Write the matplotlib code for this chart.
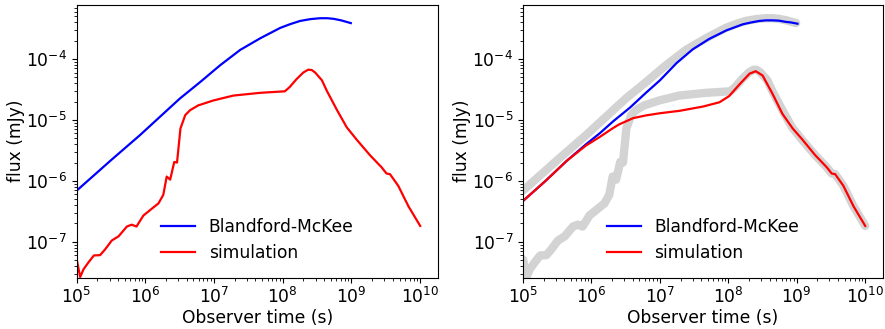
import numpy as np
import matplotlib
matplotlib.use("Agg")
import matplotlib.pyplot as plt

# ---- data (log10 values) ----
# Left panel: Blandford-McKee analytic curve
bm_left_logt = [5.0, 5.5, 5.92, 6.21, 6.50, 6.795, 7.09, 7.38, 7.67, 7.96,
                8.10, 8.25, 8.40, 8.54, 8.65, 8.74, 8.85, 8.99]
bm_left_logf = [-6.16, -5.66, -5.25, -4.95, -4.65, -4.38, -4.10, -3.85, -3.66,
                -3.49, -3.43, -3.375, -3.345, -3.33, -3.33, -3.34, -3.365, -3.41]

# Left panel: simulation curve
sim_left_logt = [5.0, 5.05, 5.10, 5.17, 5.25, 5.34, 5.41, 5.51, 5.61, 5.73,
                 5.80, 5.87, 5.97, 6.09, 6.19, 6.26, 6.31, 6.36, 6.42, 6.46,
                 6.51, 6.58, 6.65, 6.77, 6.80, 6.99, 7.28, 7.67, 8.03, 8.10,
                 8.20, 8.30, 8.37, 8.42, 8.47, 8.57, 8.64, 8.79, 8.93, 9.08,
                 9.27, 9.44, 9.51, 9.56, 9.68, 9.83, 10.0]
sim_left_logf = [-7.29, -7.58, -7.45, -7.34, -7.225, -7.22, -7.13, -6.98, -6.91,
                 -6.75, -6.72, -6.75, -6.57, -6.46, -6.37, -6.23, -5.93, -5.98,
                 -5.69, -5.70, -5.14, -4.92, -4.84, -4.76, -4.75, -4.68, -4.60,
                 -4.555, -4.53, -4.46, -4.33, -4.22, -4.175, -4.18, -4.22, -4.35,
                 -4.52, -4.84, -5.12, -5.33, -5.58, -5.78, -5.88, -5.89, -6.08,
                 -6.42, -6.74]

# Right panel: Blandford-McKee analytic curve
bm_right_logt = [5.0, 5.32, 5.64, 5.92, 6.12, 6.32, 6.56, 6.80, 7.0, 7.24,
                 7.48, 7.72, 7.97, 8.21, 8.33, 8.45, 8.55, 8.645, 8.74, 8.84,
                 8.92, 9.01]
bm_right_logf = [-6.33, -6.01, -5.67, -5.40, -5.22, -5.02, -4.80, -4.55, -4.35,
                 -4.07, -3.84, -3.67, -3.53, -3.43, -3.40, -3.375, -3.365, -3.365,
                 -3.37, -3.39, -3.40, -3.42]

# Right panel: simulation curve
sim_right_logt = [5.0, 5.32, 5.64, 5.92, 6.12, 6.32, 6.41, 6.61, 6.80, 7.0,
                  7.29, 7.63, 7.87, 8.01, 8.16, 8.31, 8.40, 8.50, 8.645, 8.79,
                  8.94, 9.08, 9.27, 9.44, 9.51, 9.56, 9.68, 9.83, 10.0]
sim_right_logf = [-6.33, -6.01, -5.67, -5.42, -5.28, -5.13, -5.07, -4.97, -4.925,
                  -4.89, -4.85, -4.78, -4.71, -4.61, -4.42, -4.24, -4.20, -4.27,
                  -4.57, -4.90, -5.14, -5.32, -5.58, -5.78, -5.88, -5.89, -6.08,
                  -6.42, -6.74]

labels = ["Blandford-McKee", "simulation"]
xlabel = "Observer time (s)"
ylabel = "flux (mJy)"


def p(v):
    return 10.0 ** np.asarray(v)


FS = 12.3
plt.rcParams["font.family"] = ["DejaVu Sans"]
plt.rcParams["font.size"] = FS

fig = plt.figure(figsize=(8.85, 3.29), dpi=100)
ax1 = fig.add_axes([0.0867, 0.156, 0.4079, 0.8297])
ax2 = fig.add_axes([0.591, 0.156, 0.4064, 0.8297])

# left panel
ax1.plot(p(bm_left_logt), p(bm_left_logf), color="blue", lw=1.6, label=labels[0])
ax1.plot(p(sim_left_logt), p(sim_left_logf), color="red", lw=1.6, label=labels[1])

# right panel: left-panel curves as thick grey background
ax2.plot(p(bm_left_logt), p(bm_left_logf), color="lightgray", lw=6,
         solid_capstyle="round", solid_joinstyle="round")
ax2.plot(p(sim_left_logt), p(sim_left_logf), color="lightgray", lw=6,
         solid_capstyle="round", solid_joinstyle="round")
ax2.plot(p(bm_right_logt), p(bm_right_logf), color="blue", lw=1.6, label=labels[0])
ax2.plot(p(sim_right_logt), p(sim_right_logf), color="red", lw=1.6, label=labels[1])

for ax in (ax1, ax2):
    ax.set_xscale("log")
    ax.set_yscale("log")
    ax.set_xlim(1e5, 1.8e10)
    ax.set_ylim(2.57e-8, 7.8e-4)
    ax.set_xlabel(xlabel, fontsize=FS, labelpad=1)
    ax.set_ylabel(ylabel, fontsize=FS, labelpad=1)
    ax.tick_params(labelsize=FS)
    ax.legend(loc="lower center", frameon=False, fontsize=FS)

fig.savefig("out.png", dpi=100)
